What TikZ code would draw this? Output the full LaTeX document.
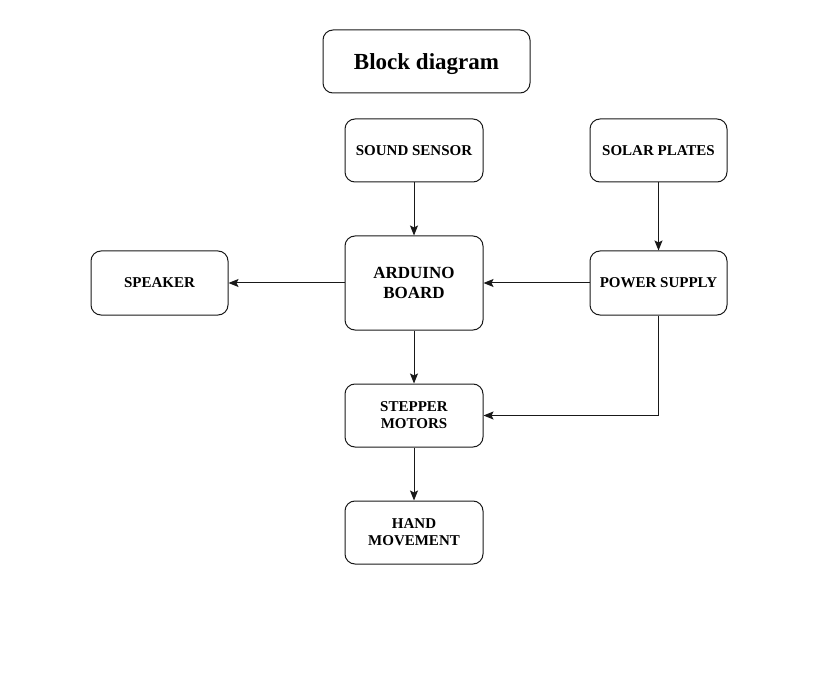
\documentclass[tikz,border=0pt]{standalone}
\usepackage{fontspec}
\setmainfont{Liberation Serif}
\usetikzlibrary{arrows.meta}
\tikzset{
  block/.style={draw=black!90, line width=1pt, rounded corners=10pt, minimum width=138pt, minimum height=63pt,
    inner sep=0pt, align=center, font=\fontsize{15}{17}\selectfont\bfseries},
  link/.style={-{Stealth[length=10pt,width=8pt,inset=2pt]}, draw=black!90, line width=1pt}
}
\begin{document}
\begin{tikzpicture}[x=1pt,y=-1pt]
            \useasboundingbox (0,0) rectangle (817,687);
            % Define nodes
            \node[block, minimum width=207pt, text depth=0pt, font=\fontsize{23}{27}\selectfont\bfseries] (title) at (426.5,61.5) {Block diagram};
            \node[block] (sound) at (414,150.5) {SOUND SENSOR};
            \node[block, minimum width=137pt] (solar) at (658.5,150.5) {SOLAR PLATES};
            \node[block, minimum width=137pt, minimum height=64pt] (speaker) at (159.5,283) {SPEAKER};
            \node[block, minimum height=94pt, font=\fontsize{17}{20}\selectfont\bfseries] (arduino) at (414,283) {ARDUINO\\BOARD};
            \node[block, minimum width=137pt, minimum height=64pt] (power) at (658.5,283) {POWER SUPPLY};
            \node[block] (stepper) at (414,415.5) {STEPPER\\MOTORS};
            \node[block] (hand) at (414,532.5) {HAND\\MOVEMENT};
            
            % Draw edges
            \draw[link] (sound) -- (arduino);
            \draw[link] (solar) -- (power);
            \draw[link] (power) -- (arduino);
            \draw[link] (arduino) -- (speaker);
            \draw[link] (arduino) -- (stepper);
            \draw[link] (power.south) |- (stepper.east);
            \draw[link] (stepper) -- (hand);
        \end{tikzpicture}
\end{document}
